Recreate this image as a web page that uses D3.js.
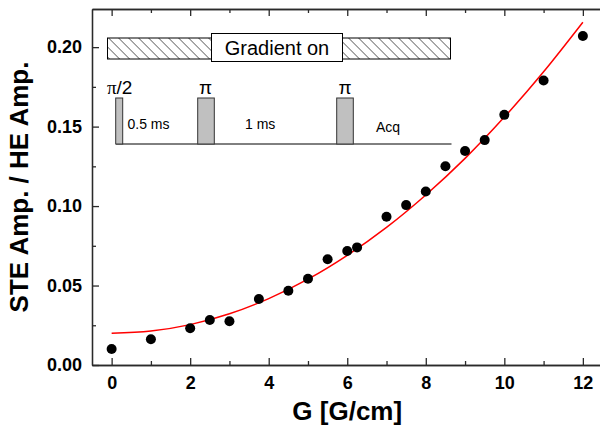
<!DOCTYPE html>
<html>
<head>
<meta charset="utf-8">
<script src="https://cdn.jsdelivr.net/npm/d3@7"></script>
<style>
  body { margin: 0; background: #fff; }
  svg { display: block; }
  text { font-family: 'Liberation Sans', Arial, sans-serif; }
</style>
</head>
<body>
<div id="chart"></div>
<script>
// measured points
const gValues = [0, 1, 2, 2.5, 3, 3.75, 4.5, 5, 5.5, 6, 6.25, 7, 7.5, 8, 8.5, 9, 9.5, 10, 11, 12];
const ampValues = [0.0101, 0.0162, 0.0231, 0.0283, 0.0275, 0.0415, 0.0467, 0.0543, 0.0665, 0.0717, 0.0740,
  0.0933, 0.1006, 0.1092, 0.1250, 0.1346, 0.1415, 0.1574, 0.1790, 0.2070];

// fitted curve
const fitG = [0, 1, 2, 3, 4, 5, 6, 7, 8, 9, 10, 11, 12];
const fitAmp = [0.0200, 0.0214, 0.0254, 0.0322, 0.0418, 0.0540, 0.0690, 0.0866, 0.1070, 0.1300, 0.1560, 0.1845, 0.2157];

const xTicks = [0, 2, 4, 6, 8, 10, 12];
const xMinor = [1, 3, 5, 7, 9, 11];
const yTicks = [0, 0.05, 0.10, 0.15, 0.20];
const yMinor = [0.025, 0.075, 0.125, 0.175];

const options = { width: 600, height: 426 };
const plot = { left: 92, right: 602.5, top: 9, bottom: 365 };

const svg = d3.select('#chart')
  .append('svg')
  .attr('width', options.width)
  .attr('height', options.height);

const x = d3.scaleLinear().domain([-0.5, 12.5]).range([plot.left, plot.right]);
const y = d3.scaleLinear().domain([0, 0.224]).range([plot.bottom, plot.top]);

const axisColor = '#2a2a2a';

function styleAxis(g) {
  g.selectAll('path, line').attr('stroke', axisColor).attr('stroke-width', 1.3);
  g.selectAll('text')
    .attr('fill', '#000')
    .attr('font-size', '18px')
    .attr('font-weight', 'bold')
    .attr('font-family', "'Liberation Sans', Arial, sans-serif");
}

// bottom axis
svg.append('g')
  .attr('transform', `translate(0,${plot.bottom})`)
  .call(d3.axisBottom(x).tickValues(xTicks).tickSize(-7).tickSizeOuter(0).tickPadding(11).tickFormat(d3.format('d')))
  .call(styleAxis);
svg.append('g')
  .attr('transform', `translate(0,${plot.bottom})`)
  .call(d3.axisBottom(x).tickValues(xMinor).tickSize(-4).tickSizeOuter(0).tickFormat(''))
  .call(styleAxis);

// top axis (mirror)
svg.append('g')
  .attr('transform', `translate(0,${plot.top})`)
  .call(d3.axisTop(x).tickValues(xTicks).tickSize(-7).tickSizeOuter(0).tickFormat(''))
  .call(styleAxis);
svg.append('g')
  .attr('transform', `translate(0,${plot.top})`)
  .call(d3.axisTop(x).tickValues(xMinor).tickSize(-4).tickSizeOuter(0).tickFormat(''))
  .call(styleAxis);

// left axis
svg.append('g')
  .attr('transform', `translate(${plot.left},0)`)
  .call(d3.axisLeft(y).tickValues(yTicks).tickSize(-7).tickSizeOuter(0).tickPadding(10).tickFormat(d3.format('.2f')))
  .call(styleAxis);
svg.append('g')
  .attr('transform', `translate(${plot.left},0)`)
  .call(d3.axisLeft(y).tickValues(yMinor).tickSize(-4).tickSizeOuter(0).tickFormat(''))
  .call(styleAxis);

// axis titles
svg.append('text')
  .attr('x', (plot.left + plot.right) / 2)
  .attr('y', 420)
  .attr('text-anchor', 'middle')
  .attr('font-size', '26px')
  .attr('font-weight', 'bold')
  .text('G [G/cm]');

svg.append('text')
  .attr('transform', `translate(28,${(plot.top + plot.bottom) / 2}) rotate(-90)`)
  .attr('text-anchor', 'middle')
  .attr('font-size', '26px')
  .attr('font-weight', 'bold')
  .text('STE Amp. / HE Amp.');

// fit curve
const line = d3.line()
  .x((d, i) => x(fitG[i]))
  .y(d => y(d))
  .curve(d3.curveNatural);

svg.append('path')
  .datum(fitAmp)
  .attr('fill', 'none')
  .attr('stroke', '#ff0000')
  .attr('stroke-width', 1.5)
  .attr('d', line);

// data points
svg.append('g')
  .selectAll('circle')
  .data(ampValues)
  .enter()
  .append('circle')
  .attr('cx', (d, i) => x(gValues[i]))
  .attr('cy', d => y(d))
  .attr('r', 5)
  .attr('fill', '#000');

// pulse sequence inset
const inset = svg.append('g').attr('class', 'inset');

const defs = svg.append('defs');
defs.append('pattern')
  .attr('id', 'hatch')
  .attr('patternUnits', 'userSpaceOnUse')
  .attr('width', 7.07)
  .attr('height', 7.07)
  .attr('patternTransform', 'rotate(-45)')
  .append('line')
  .attr('x1', 0).attr('y1', 0)
  .attr('x2', 0).attr('y2', 7.07)
  .attr('stroke', '#000')
  .attr('stroke-width', 1);

inset.append('rect')
  .attr('x', 107.5).attr('y', 38)
  .attr('width', 343).attr('height', 21)
  .attr('fill', 'url(#hatch)')
  .attr('stroke', '#000')
  .attr('stroke-width', 1);

inset.append('rect')
  .attr('x', 211.5).attr('y', 33.5)
  .attr('width', 131).attr('height', 28)
  .attr('fill', '#fff')
  .attr('stroke', '#000')
  .attr('stroke-width', 1);

inset.append('text')
  .attr('x', 277).attr('y', 55)
  .attr('text-anchor', 'middle')
  .attr('font-size', '20px')
  .text('Gradient on');

// baseline
inset.append('line')
  .attr('x1', 116).attr('x2', 451.5)
  .attr('y1', 144).attr('y2', 144)
  .attr('stroke', '#000')
  .attr('stroke-width', 1);

const pulses = [
  { x0: 115.7, x1: 122.7 },
  { x0: 197.7, x1: 214.3 },
  { x0: 336.7, x1: 353.3 },
];
inset.selectAll('rect.pulse')
  .data(pulses)
  .enter()
  .append('rect')
  .attr('class', 'pulse')
  .attr('x', d => d.x0)
  .attr('y', 98)
  .attr('width', d => d.x1 - d.x0)
  .attr('height', 46)
  .attr('fill', '#c0c0c0')
  .attr('stroke', '#333')
  .attr('stroke-width', 1);

const half = inset.append('text')
  .attr('x', 107)
  .attr('y', 93.5)
  .attr('font-size', '19px');
half.append('tspan').attr('font-family', "'Liberation Serif', 'Times New Roman', serif").text('π');
half.append('tspan').text('/2');

[205.5, 345].forEach(cx => {
  inset.append('text')
    .attr('x', cx)
    .attr('y', 93.5)
    .attr('text-anchor', 'middle')
    .attr('font-size', '19px')
    .attr('font-family', "'Liberation Serif', 'Times New Roman', serif")
    .text('π');
});

inset.append('text')
  .attr('x', 127.5).attr('y', 128.5)
  .attr('font-size', '14px')
  .text('0.5 ms');

inset.append('text')
  .attr('x', 245).attr('y', 128.5)
  .attr('font-size', '14px')
  .text('1 ms');

inset.append('text')
  .attr('x', 376).attr('y', 131.5)
  .attr('font-size', '14px')
  .text('Acq');
</script>
</body>
</html>
